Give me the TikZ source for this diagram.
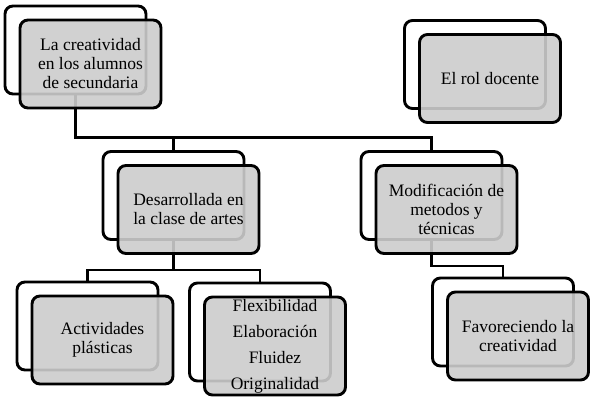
\documentclass[tikz,border=0pt]{standalone}
\usepackage{fontspec}
\setmainfont{Liberation Serif}
\usepackage{xcolor}
\usetikzlibrary{positioning, backgrounds, calc}

\begin{document}
\begin{tikzpicture}[
  x=1pt, y=1pt,
  back/.style={draw, line width=2.9pt, rounded corners=8pt, fill=white,
               minimum width=141pt, minimum height=88pt},
  front/.style={draw, line width=2.9pt, rounded corners=8pt, fill=black!20,
                fill opacity=0.9, text opacity=1, align=center,
                font=\fontsize{17.5}{19}\selectfont, inner sep=1pt,
                minimum width=141pt, minimum height=88pt},
  conn/.style={line width=2.9pt},
]
  \useasboundingbox (0,0) rectangle (590,-404);

  % back boxes
  \node[back] (rootb) at (75.5,-50)   {};
  \node[back] (rolb)  at (475,-64.5)  {};
  \node[back] (desb)  at (173.5,-195.5) {};
  \node[back] (modb)  at (431.5,-195.5) {};
  \node[back] (actb)  at (87.5,-326)  {};
  \node[back, minimum height=98pt] (flexb) at (260,-332) {};
  \node[back] (favb)  at (503,-322)   {};

  % front boxes
  \node[front] (root) at ([shift={(15,-14)}]rootb.center) {La creatividad\\en los alumnos\\de secundaria};
  \node[front] (rol)  at ([shift={(15,-14)}]rolb.center)  {El rol docente};
  \node[front] (des)  at ([shift={(15,-14)}]desb.center)  {Desarrollada en\\la clase de artes};
  \node[front] (mod)  at ([shift={(15,-14)}]modb.center)  {Modificación de\\metodos y\\técnicas};
  \node[front] (act)  at ([shift={(15,-14)}]actb.center)  {Actividades\\plásticas};
  \node[front, minimum height=98pt, font=\fontsize{17.5}{26}\selectfont]
        (flex) at ([shift={(15,-14)}]flexb.center) {Flexibilidad\\Elaboración\\Fluidez\\Originalidad};
  \node[front] (fav)  at ([shift={(15,-14)}]favb.center)  {Favoreciendo la\\creatividad};

  \begin{scope}[on background layer]
    \draw[conn] (rootb.south) -- ++(0,-42) -| (desb.north);
    \draw[conn] (rootb.south) -- ++(0,-42) -| (modb.north);
    \draw[conn] (desb.south) -- ++(0,-29) -| (actb.north);
    \draw[conn] (desb.south) -- ++(0,-29) -| (flexb.north);
    \draw[conn] (modb.south) -- ++(0,-25) -| (favb.north);
  \end{scope}
\end{tikzpicture}
\end{document}
